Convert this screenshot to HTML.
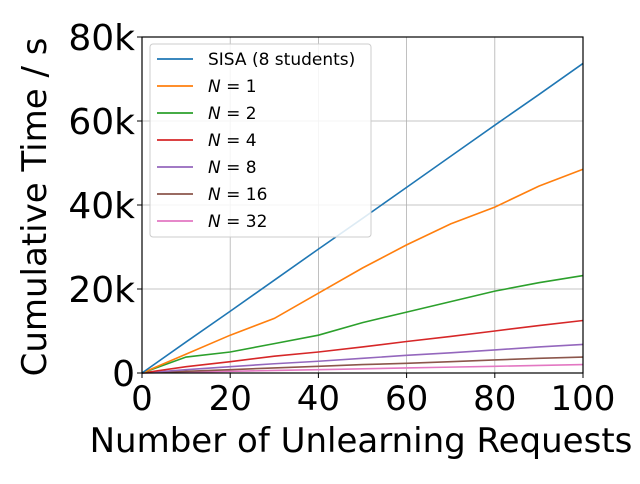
<!DOCTYPE html>
<html><head><meta charset="utf-8"><style>
body{margin:0;background:#fff;font-family:"DejaVu Sans","Liberation Sans",sans-serif}
</style></head><body>
<svg width="640" height="480" xmlns="http://www.w3.org/2000/svg">
<g id="grid"></g>
<g id="lines"></g>
<rect x="142" y="37" width="441" height="336" fill="none" stroke="#000" stroke-width="1.2"/>
<g id="ticks"></g>
<text x="361" y="452" text-anchor="middle" font-size="34">Number of Unlearning Requests</text>
<text transform="translate(46,207) rotate(-90)" text-anchor="middle" font-size="34">Cumulative Time / s</text>
<g id="legend"></g>
</svg>
<script>
const xs=[0,10,20,30,40,50,60,70,80,90,100];
const sisa=[0,7.4,14.7,22.1,29.5,36.8,44.2,51.6,59,66.3,73.7];
const n1=[0,4.5,9,13,19,25,30.5,35.5,39.5,44.5,48.5];
const n2=[0,3.8,5,7,9,12,14.5,17,19.5,21.5,23.2];
const n4=[0,1.5,2.7,4,5,6.2,7.5,8.7,10,11.3,12.5];
const n8=[0,0.8,1.5,2.2,2.8,3.5,4.2,4.8,5.5,6.2,6.8];
const n16=[0,0.4,0.8,1.2,1.6,2,2.3,2.7,3.1,3.5,3.8];
const n32=[0,0.2,0.4,0.6,0.8,1,1.2,1.4,1.6,1.8,2];
const xTicks=[0,20,40,60,80,100];
const yTicks=[0,20,40,60,80];
const yLabels=["0","20k","40k","60k","80k"];
const names=["SISA (8 students)","N = 1","N = 2","N = 4","N = 8","N = 16","N = 32"];
const colors=["#1f77b4","#ff7f0e","#2ca02c","#d62728","#9467bd","#8c564b","#e377c2"];
const series=[sisa,n1,n2,n4,n8,n16,n32];
const X=v=>142+v*4.41, Y=v=>373-v*4.2;
const NS="http://www.w3.org/2000/svg";
function mk(t,a,p){const e=document.createElementNS(NS,t);for(const k in a)e.setAttribute(k,a[k]);p.appendChild(e);return e;}
const g=document.getElementById('grid'),tk=document.getElementById('ticks');
xTicks.forEach(v=>{
 const l=mk('line',{x1:X(v),x2:X(v),y1:37,y2:373,stroke:'#b0b0b0','stroke-width':0.8},g);
 
 
 mk('line',{x1:X(v),x2:X(v),y1:373,y2:378,stroke:'#000'},tk);
 const tx=mk('text',{x:X(v),y:410,'text-anchor':'middle','font-size':34},tk);tx.textContent=v;
 
 
});
yTicks.forEach((v,i)=>{
 const l=mk('line',{x1:142,x2:583,y1:Y(v),y2:Y(v),stroke:'#b0b0b0','stroke-width':0.8},g);
 
 
 mk('line',{x1:137,x2:142,y1:Y(v),y2:Y(v),stroke:'#000'},tk);
 const tx=mk('text',{x:135,y:Y(v)+13,'text-anchor':'end','font-size':36},tk);tx.textContent=yLabels[i];
 
 
});
const lg=document.getElementById('lines');
series.slice().reverse().forEach((s,ri)=>{const i=series.length-1-ri;
 const p=mk('polyline',{points:s.map((v,j)=>X(xs[j])+','+Y(v)).join(' '),fill:'none',stroke:colors[i],'stroke-width':1.6},lg);
 
 
});
const L=document.getElementById('legend');
const box=mk('rect',{x:150,y:44,width:221,height:193,rx:3,fill:'#fff','fill-opacity':0.85,stroke:'#ccc'},L);


names.forEach((n,i)=>{const y=59+i*27;
 mk('line',{x1:157,x2:193,y1:y,y2:y,stroke:colors[i],'stroke-width':1.8},L);
 const t=mk('text',{x:208,y:y+6,'font-size':17},L);
 if(i==0)t.textContent=n;else{t.innerHTML='<tspan font-style="italic">N</tspan> = '+n.slice(4);}
 
 
});
</script>
</body></html>
